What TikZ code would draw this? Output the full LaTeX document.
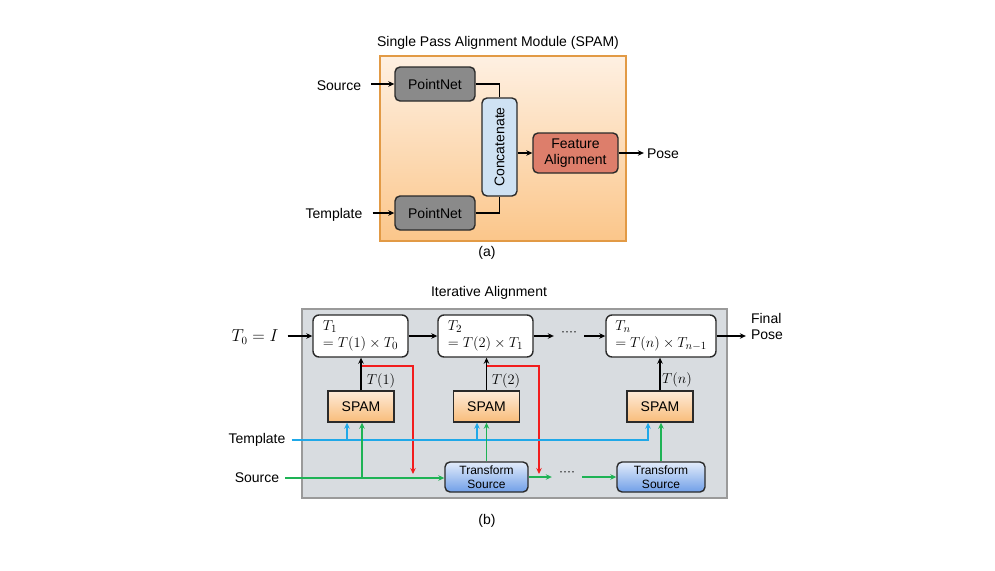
\documentclass[tikz,border=0pt]{standalone}
\usepackage{fontspec}
\setmainfont{Liberation Sans}
\usetikzlibrary{arrows.meta,calc}
\definecolor{panelA}{HTML}{E29A45}
\definecolor{panelAtop}{HTML}{FEF0E2}
\definecolor{panelAbot}{HTML}{FBC68A}
\definecolor{pnfill}{HTML}{8A8A8A}
\definecolor{concfill}{HTML}{CFE2F3}
\definecolor{fafill}{HTML}{DD7E6B}
\definecolor{panelB}{HTML}{D8DCE0}
\definecolor{panelBdraw}{HTML}{9A9A9A}
\definecolor{spamtop}{HTML}{FEEBD8}
\definecolor{spambot}{HTML}{F8BC7A}
\definecolor{tstop}{HTML}{E3ECFA}
\definecolor{tsbot}{HTML}{709FE8}
\definecolor{edge}{HTML}{2A2A2A}
\definecolor{redl}{HTML}{F21D1D}
\definecolor{bluel}{HTML}{1FA8E8}
\definecolor{greenl}{HTML}{1EB355}
\begin{document}
\begin{tikzpicture}[x=1pt,y=-1pt,
  txt/.style={font=\fontsize{14}{16}\selectfont, inner sep=0pt},
  small/.style={font=\fontsize{12}{13.5}\selectfont},
  mathf/.style={font=\fontsize{16}{18}\selectfont},
  tip/.style={-{Stealth[length=6pt,width=5.5pt]}},
  arr/.style={tip, line width=1.4pt, draw=black},
  plain/.style={line width=1.4pt, draw=black},
  box/.style={draw=edge, line width=1.4pt, inner sep=0pt, align=center, font=\fontsize{14}{16}\selectfont},
  pnbox/.style={box, fill=pnfill, rounded corners=5pt, minimum width=80pt, minimum height=34pt},
  tbox/.style={box, fill=white, rounded corners=6pt, minimum height=42pt, align=left, font=\fontsize{15}{17}\selectfont},
  spambox/.style={box, top color=spamtop, bottom color=spambot, minimum width=66pt, minimum height=31pt},
  tsbox/.style={box, rounded corners=5pt, top color=tstop, bottom color=tsbot, minimum height=30pt, small},
  redarr/.style={tip, line width=1.4pt, draw=redl},
  bluearr/.style={tip, line width=1.4pt, draw=bluel},
  greenarr/.style={tip, line width=1.4pt, draw=greenl},
  dotsn/.style={font=\fontsize{12}{12}\selectfont, inner sep=0pt}
]
\useasboundingbox (0,0) rectangle (995,570);

% ---------------- (a) ----------------
\node[txt] (titleA) at (498,43) {Single Pass Alignment Module (SPAM)};
\node[draw=panelA, line width=1.5pt, top color=panelAtop, bottom color=panelAbot,
      minimum width=246pt, minimum height=185pt, inner sep=0pt] (panA) at (503,148.5) {};
\node[pnbox] (pn1) at (435,84) {PointNet};
\node[pnbox] (pn2) at (435,213) {PointNet};
\node[box, fill=concfill, rounded corners=5pt, rotate=90, minimum width=98pt, minimum height=35pt] (conc) at (499.5,147) {Concatenate};
\node[box, fill=fafill, rounded corners=5pt, minimum width=85pt, minimum height=40pt] (fa) at (575.5,153) {Feature\\Alignment};
\node[txt] (src) at (339,86) {Source};
\node[txt] (tpl) at (334,215) {Template};
\node[txt] (pose) at (663,154) {Pose};
\node[txt] (capA) at (487,253) {(a)};

\draw[arr] ([xshift=10pt]src.east |- pn1.west) -- (pn1.west);
\draw[arr] ([xshift=10pt]tpl.east |- pn2.west) -- (pn2.west);
\draw[plain] (pn1.east) -| (conc.east);
\draw[plain] (pn2.east) -| (conc.west);
\draw[arr] (fa.west -| conc.south) -- (fa.west);
\draw[arr] (fa.east) -- ([xshift=-3pt]pose.west |- fa.east);

% ---------------- (b) ----------------
\node[txt] (titleB) at (489,293) {Iterative Alignment};
\node[draw=panelBdraw, line width=1.5pt, fill=panelB, minimum width=425pt, minimum height=189pt, inner sep=0pt] (panB) at (514.5,403.5) {};

\node[tbox, minimum width=95pt] (t1) at (360.5,336) {$T_1$\\$=T(1)\times T_0$};
\node[tbox, minimum width=95pt] (t2) at (485.5,336) {$T_2$\\$=T(2)\times T_1$};
\node[tbox, minimum width=110pt] (tn) at (661,336) {$T_n$\\$=T(n)\times T_{n-1}$};

\node[spambox] (s1) at (361,406.5) {SPAM};
\node[spambox] (s2) at (486.5,406.5) {SPAM};
\node[spambox] (sn) at (660,406.5) {SPAM};

\node[tsbox, minimum width=83pt] (ts1) at (486.5,477) {Transform\\Source};
\node[tsbox, minimum width=88pt] (tsn) at (661,477) {Transform\\Source};

\node[txt, mathf] (t0) at (255,337) {$T_0=I$};
\node[txt, align=left] (fpose) at (767,326) {Final\\Pose};
\node[txt] (tplB) at (257,440) {Template};
\node[txt] (srcB) at (257,478) {Source};
\node[txt] (capB) at (487,521) {(b)};

\node[txt, font=\fontsize{15}{17}\selectfont] (l1) at (381,381) {$T(1)$};
\node[txt, font=\fontsize{15}{17}\selectfont] (l2) at (506,381) {$T(2)$};
\node[txt, font=\fontsize{15}{17}\selectfont] (ln) at (677,380) {$T(n)$};

\node[dotsn] (d1) at (569,334) {····};
\node[dotsn] (d2) at (567,474) {····};

% top chain
\draw[arr] ([xshift=9pt]t0.east |- t1.west) -- (t1.west);
\draw[arr] (t1.east) -- (t2.west);
\draw[arr] (t2.east) -- ([xshift=-7pt]d1.west |- t2.east);
\draw[arr] ([xshift=7pt]d1.east |- tn.west) -- (tn.west);
\draw[arr] (tn.east) -- ([xshift=-5pt]fpose.west |- tn.east);

% SPAM outputs
\draw[arr] (s1.north) -- (s1.north |- t1.south);
\draw[arr] (s2.north) -- (s2.north |- t2.south);
\draw[arr] (sn.north) -- (sn.north |- tn.south);

% red feedback
\coordinate (r1a) at (362,366);
\coordinate (r1b) at (413,474);
\coordinate (r2a) at (487,366);
\coordinate (r2b) at (539,474);
\draw[redarr] (r1a) -| (r1b);
\draw[redarr] (r2a) -| (r2b);

% template line (blue)
\coordinate (tb1) at (347,440);
\coordinate (tb2) at (477,440);
\coordinate (tbn) at (648,440);
\draw[line width=1.4pt, draw=bluel] ([xshift=6pt]tplB.east) -- (tb1) -- (tb2);
\draw[bluearr] (tb2) -| (sn.south -| tbn);
\draw[bluearr] (tb1) -- (s1.south -| tb1);
\draw[bluearr] (tb2) -- (s2.south -| tb2);

% source line (green)
\coordinate (gb1) at (362,478);
\draw[greenarr] ([xshift=6pt]srcB.east) -- (ts1.west |- gb1);
\draw[greenarr] (gb1) -- (s1.south -| gb1);
\draw[greenarr] (ts1.north) -- (s2.south -| ts1.north);
\draw[greenarr] (tsn.north) -- (sn.south -| tsn.north);
\draw[greenarr] (ts1.east) -- ([xshift=-7pt]d2.west |- ts1.east);
\draw[greenarr] ([xshift=7pt]d2.east |- tsn.west) -- (tsn.west);
\end{tikzpicture}
\end{document}
